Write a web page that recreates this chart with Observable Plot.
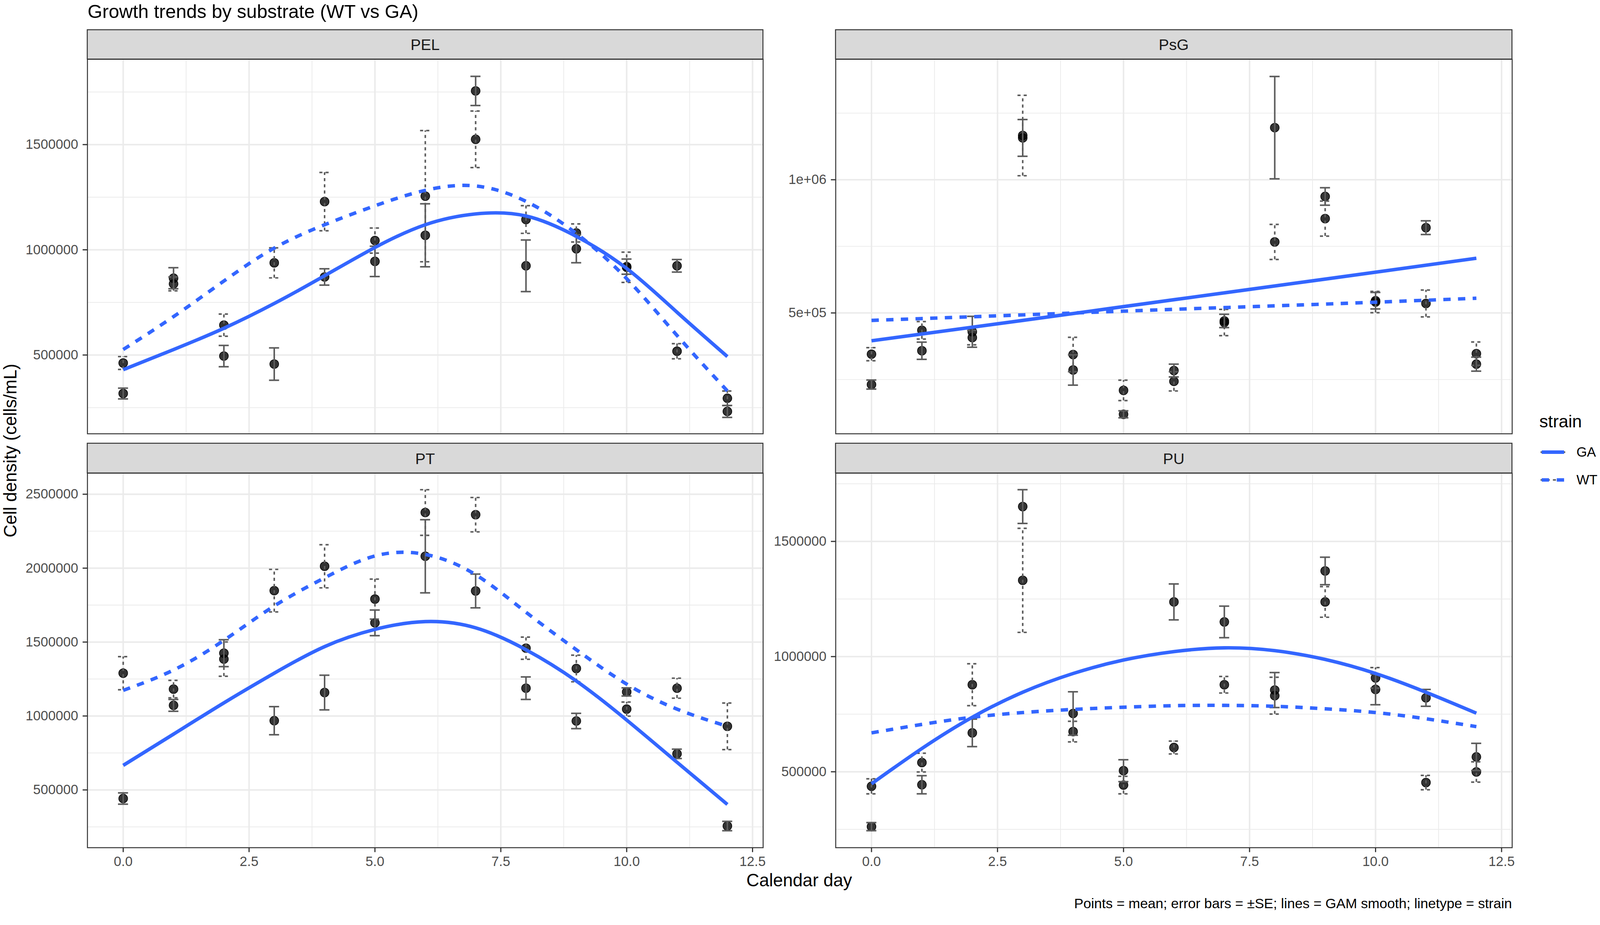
<!DOCTYPE html>
<html><head><meta charset="utf-8">
<script src="https://cdn.jsdelivr.net/npm/d3@7"></script>
<script src="https://cdn.jsdelivr.net/npm/@observablehq/plot@0.6"></script>
<style>
html,body{margin:0;padding:0;background:#fff;overflow:hidden;}
#wrap{position:absolute;left:0;top:0;width:4144px;height:2368px;overflow:hidden;font-family:"Liberation Sans",Arial,Helvetica,sans-serif;background:#fff;transform-origin:0 0;}
.panel{position:absolute;line-height:0;}
#overlay{position:absolute;left:0;top:0;pointer-events:none;}
</style></head><body><div id="wrap"></div>
<script>
// ---------------- data ----------------
const days = [0,1,2,3,4,5,6,7,8,9,10,11,12];
const substrates = ["PEL","PsG","PT","PU"];
const strains = ["GA","WT"];

// PEL
const pelGA   = [317000, 865000, 495000, 457000, 871000, 945000, 1069000, 1755000, 924000, 1005000, 920000, 924000, 232000];
const pelGAse = [25600, 50000, 50600, 76900, 38800, 72000, 149700, 69300, 122600, 66500, 36000, 29800, 28400];
const pelWT   = [462000, 838000, 642000, 938000, 1229000, 1044000, 1255000, 1525000, 1144000, 1080000, 917000, 518000, 294500];
const pelWTse = [30500, 33000, 52700, 71400, 138600, 59600, 311800, 134400, 65800, 43000, 72000, 36000, 34600];
const pelSmoothDays = [0,1,2,3,4,5,6,7,8,9,10,11,12];
const pelGAsmooth = [430300, 526000, 627200, 744900, 876700, 1011000, 1119100, 1170500, 1160700, 1063700, 911200, 703300, 492700];
const pelWTsmooth = [526000, 682600, 851700, 1008300, 1119100, 1209200, 1282700, 1303500, 1230100, 1077600, 862800, 593000, 329200];

// PsG
const psgGA   = [231200, 358100, 429300, 1157000, 285900, 119600, 283800, 470000, 1195500, 937200, 546000, 820100, 307800];
const psgGAse = [17000, 32300, 58000, 69000, 56900, 13100, 24000, 25000, 192100, 32800, 31000, 25700, 26300];
const psgWT   = [345100, 434800, 407400, 1166000, 343900, 209300, 243200, 464000, 766500, 854100, 541000, 535500, 347200];
const psgWTse = [24600, 32800, 27000, 151000, 64600, 38300, 36100, 49300, 65700, 65700, 40000, 50400, 43800];
const psgSmoothDays = [0,3,6,9,12];
const psgGAsmooth = [395400, 472000, 549700, 627000, 705200];
const psgWTsmooth = [472000, 492700, 513600, 533300, 555200];

// PT
const ptGA   = [441800, 1071900, 1424900, 968300, 1158600, 1630000, 2080300, 1845700, 1188100, 966200, 1162800, 744100, 255800];
const ptGAse = [38100, 40000, 91000, 95100, 117300, 86700, 247400, 114200, 76100, 51800, 27500, 31700, 31700];
const ptWT   = [1289600, 1181800, 1384800, 1847800, 2012700, 1790700, 2376300, 2361500, 1458800, 1321300, 1046500, 1188100, 930200];
const ptWTse = [112100, 59000, 116000, 143800, 145900, 135300, 154300, 116300, 75000, 89900, 47600, 67700, 157500];
const ptSmoothDays = [0,1,2,3,4,5,6,7,8,9,10,11,12];
const ptGAsmooth = [665900, 877400, 1088800, 1289600, 1469300, 1585600, 1638500, 1596200, 1448200, 1236800, 972500, 687100, 401700];
const ptWTsmooth = [1173400, 1310800, 1511600, 1744200, 1934500, 2082500, 2093000, 1955600, 1701900, 1448200, 1215600, 1046500, 930200];

// PU
const puGA   = [261900, 443700, 668900, 1651300, 753000, 504800, 1237400, 1150600, 854800, 1371800, 857500, 820900, 564500];
const puGAse = [17600, 39400, 59700, 73300, 94300, 47500, 78000, 68500, 76000, 59700, 66500, 36600, 59000];
const puWT   = [436900, 540000, 877900, 1331100, 674400, 442300, 605200, 877900, 830400, 1237400, 907700, 453200, 499300];
const puWTse = [32600, 40700, 90900, 225900, 44800, 38000, 27800, 36000, 80000, 66500, 44800, 31200, 44100];
const puSmoothDays = [0,1,2,3,4,5,6,7,8,9,10,11,12];
const puGAsmooth = [447800, 601100, 736800, 845300, 926700, 985100, 1021700, 1038000, 1025800, 987800, 926700, 845300, 754400];
const puWTsmooth = [668900, 705600, 736800, 757100, 770700, 780200, 787000, 788300, 784300, 773400, 757100, 730000, 696100];

// axis ticks
const xMajor = [0, 2.5, 5, 7.5, 10, 12.5];
const xMinor = [1.25, 3.75, 6.25, 8.75, 11.25];
const xDomain = [-0.71, 12.71];
const psgTickLabels = {500000: "5e+05", 1000000: "1e+06"};

const title = "Growth trends by substrate (WT vs GA)";
const xTitle = "Calendar day";
const yTitle = "Cell density (cells/mL)";
const caption = "Points = mean; error bars = ±SE; lines = GAM smooth; linetype = strain";
const legendTitle = "strain";

// ---------------- layout ----------------
const FONT = '"Liberation Sans", Arial, Helvetica, sans-serif';
const BLUE = "#3366FF";
const EB = "#5c5c5c";
const wrap = document.getElementById("wrap");

const panels = [
  {name:"PEL", ga:pelGA, gaSe:pelGAse, wt:pelWT, wtSe:pelWTse, sd:pelSmoothDays, gs:pelGAsmooth, ws:pelWTsmooth,
   yDomain:[125700,1905500], yMajor:[500000,1000000,1500000], yMinor:[250000,750000,1250000,1750000],
   fmt:d3.format("d"), left:226, top:153, width:1750, stripTop:77, showX:false},
  {name:"PsG", ga:psgGA, gaSe:psgGAse, wt:psgWT, wtSe:psgWTse, sd:psgSmoothDays, gs:psgGAsmooth, ws:psgWTsmooth,
   yDomain:[46400,1452200], yMajor:[500000,1000000], yMinor:[250000,750000,1250000],
   fmt:d=>psgTickLabels[d], left:2164, top:153, width:1752, stripTop:77, showX:false},
  {name:"PT", ga:ptGA, gaSe:ptGAse, wt:ptWT, wtSe:ptWTse, sd:ptSmoothDays, gs:ptGAsmooth, ws:ptWTsmooth,
   yDomain:[109300,2642400], yMajor:[500000,1000000,1500000,2000000,2500000], yMinor:[250000,750000,1250000,1750000,2250000],
   fmt:d3.format("d"), left:226, top:1225, width:1750, stripTop:1148, showX:true},
  {name:"PU", ga:puGA, gaSe:puGAse, wt:puWT, wtSe:puWTse, sd:puSmoothDays, gs:puGAsmooth, ws:puWTsmooth,
   yDomain:[170500,1796300], yMajor:[500000,1000000,1500000], yMinor:[250000,750000,1250000,1750000],
   fmt:d3.format("d"), left:2164, top:1225, width:1752, stripTop:1148, showX:true}
];
const PH = 970; // panel height
const ML = 190, MR = 6, MT = 6;

for (const p of panels) {
  const rows = [];
  days.forEach((d,i)=>{
    rows.push({day:d, strain:"GA", mean:p.ga[i], lo:p.ga[i]-p.gaSe[i], hi:p.ga[i]+p.gaSe[i]});
    rows.push({day:d, strain:"WT", mean:p.wt[i], lo:p.wt[i]-p.wtSe[i], hi:p.wt[i]+p.wtSe[i]});
  });
  const ga = rows.filter(r=>r.strain==="GA");
  const wt = rows.filter(r=>r.strain==="WT");
  const sm = [];
  p.sd.forEach((d,i)=>{
    sm.push({day:d, strain:"GA", v:p.gs[i]});
    sm.push({day:d, strain:"WT", v:p.ws[i]});
  });
  const MB = p.showX ? 80 : 6;
  const ebMarks = (data, dash) => [
    Plot.ruleX(data, {x:"day", y1:"lo", y2:"hi", stroke:EB, strokeWidth:4, strokeDasharray:dash}),
    Plot.ruleY(data, {y:"hi", x1:d=>d.day-0.1, x2:d=>d.day+0.1, stroke:EB, strokeWidth:4, strokeDasharray:dash}),
    Plot.ruleY(data, {y:"lo", x1:d=>d.day-0.1, x2:d=>d.day+0.1, stroke:EB, strokeWidth:4, strokeDasharray:dash})
  ];
  const marks = [
    Plot.gridX({ticks:xMinor, stroke:"#ebebeb", strokeOpacity:1, strokeWidth:2}),
    Plot.gridY({ticks:p.yMinor, stroke:"#ebebeb", strokeOpacity:1, strokeWidth:2}),
    Plot.gridX({ticks:xMajor, stroke:"#ebebeb", strokeOpacity:1, strokeWidth:4}),
    Plot.gridY({ticks:p.yMajor, stroke:"#ebebeb", strokeOpacity:1, strokeWidth:4}),
    Plot.dot(rows, {x:"day", y:"mean", r:11.5, fill:"#000", fillOpacity:0.8, stroke:"#000", strokeWidth:1.5}),
    ...ebMarks(ga, null),
    ...ebMarks(wt, "8,8"),
    Plot.line(sm.filter(d=>d.strain==="GA"), {x:"day", y:"v", curve:"natural", stroke:BLUE, strokeWidth:9, strokeLinecap:"butt"}),
    Plot.line(sm.filter(d=>d.strain==="WT"), {x:"day", y:"v", curve:"natural", stroke:BLUE, strokeWidth:9, strokeLinecap:"butt", strokeDasharray:"19,19"}),
    Plot.frame({stroke:"#333333", strokeWidth:2.5}),
    Plot.axisY({ticks:p.yMajor, tickFormat:p.fmt, tickSize:12, tickPadding:12, label:null, stroke:"#333333", strokeWidth:3, color:"#4d4d4d", fontSize:35})
  ];
  if (p.showX) marks.push(Plot.axisX({ticks:xMajor, tickFormat:d3.format(".1f"), tickSize:12, tickPadding:11, label:null, stroke:"#333333", strokeWidth:3, color:"#4d4d4d", fontSize:35}));
  const chart = Plot.plot({
    width: ML + p.width + MR,
    height: MT + PH + MB,
    marginLeft: ML, marginRight: MR, marginTop: MT, marginBottom: MB,
    style: {fontFamily: FONT, fontSize: "35px", color: "#4d4d4d", background: "transparent", overflow: "visible", maxWidth: "none"},
    x: {domain: xDomain, axis: p.showX ? undefined : null},
    y: {domain: p.yDomain},
    marks
  });
  const div = document.createElement("div");
  div.className = "panel";
  div.style.left = (p.left - ML) + "px";
  div.style.top = (p.top - MT) + "px";
  div.appendChild(chart);
  wrap.appendChild(div);
}

// ---------------- overlay: title, strips, axis titles, legend, caption ----------------
const NS = "http://www.w3.org/2000/svg";
const ov = document.createElementNS(NS, "svg");
ov.setAttribute("id","overlay");
ov.setAttribute("width", 4144);
ov.setAttribute("height", 2368);
function el(tag, attrs, text) {
  const e = document.createElementNS(NS, tag);
  for (const k in attrs) e.setAttribute(k, attrs[k]);
  if (text !== undefined) e.textContent = text;
  ov.appendChild(e);
  return e;
}
el("text", {x:227, y:47, "font-size":49, "font-family":FONT, fill:"#000"}, title);
for (const p of panels) {
  const h = p.top - p.stripTop;
  el("rect", {x:p.left, y:p.stripTop, width:p.width, height:h, fill:"#d9d9d9", stroke:"#333333", "stroke-width":2.5});
  el("text", {x:p.left + p.width/2, y:p.stripTop + h/2 + 15, "font-size":40, "font-family":FONT, fill:"#1a1a1a", "text-anchor":"middle"}, p.name);
}
el("text", {x:2070, y:2296, "font-size":46, "font-family":FONT, fill:"#000", "text-anchor":"middle"}, xTitle);
el("text", {transform:"translate(42,1167) rotate(-90)", "font-size":46, "font-family":FONT, fill:"#000", "text-anchor":"middle"}, yTitle);
el("text", {x:3916, y:2352, "font-size":36, "font-family":FONT, fill:"#000", "text-anchor":"end"}, caption);
// legend
el("text", {x:3987, y:1107, "font-size":45, "font-family":FONT, fill:"#000"}, legendTitle);
const legendRows = [{s:strains[0], y:1171, dash:null}, {s:strains[1], y:1243, dash:"19,19"}];
for (const r of legendRows) {
  el("line", {x1:3990, x2:4054, y1:r.y, y2:r.y, stroke:EB, "stroke-width":4, "stroke-dasharray": r.dash ? "8,8" : "none"});
  const l = el("line", {x1:3993, x2:4051, y1:r.y, y2:r.y, stroke:BLUE, "stroke-width":9});
  if (r.dash) l.setAttribute("stroke-dasharray", "19,20");
  el("text", {x:4083, y:r.y + 12, "font-size":35, "font-family":FONT, fill:"#000"}, r.s);
}
wrap.appendChild(ov);

// fit the 4144-wide canvas into the viewport width (uniform scale)
function fit() {
  const w = document.documentElement.clientWidth || window.innerWidth;
  if (w > 100) { const s = w / 4144; wrap.style.transform = `scale(${s})`; }
}
fit();
window.addEventListener("resize", fit);
</script>
</body></html>
